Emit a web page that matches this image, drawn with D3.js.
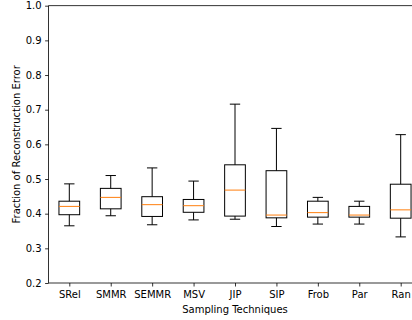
<!DOCTYPE html>
<html>
<head>
<meta charset="utf-8">
<script src="https://cdn.jsdelivr.net/npm/d3@7"></script>
<style>
  html, body { margin: 0; padding: 0; background: #fff; }
  svg { display: block; font-family: "DejaVu Sans", sans-serif; }
</style>
</head>
<body>
<svg id="chart" width="412" height="320"></svg>
<script>
// Sampling techniques compared
const categories = ["SRel", "SMMR", "SEMMR", "MSV", "JIP", "SIP", "Frob", "Par", "Ran"];
// Box statistics per technique
const whiskerLow  = [0.365, 0.394, 0.368, 0.382, 0.384, 0.363, 0.370, 0.370, 0.333];
const quartile1   = [0.397, 0.414, 0.392, 0.404, 0.393, 0.388, 0.390, 0.390, 0.387];
const medians     = [0.421, 0.447, 0.426, 0.423, 0.468, 0.396, 0.403, 0.396, 0.411];
const quartile3   = [0.436, 0.473, 0.449, 0.441, 0.541, 0.524, 0.436, 0.421, 0.485];
const whiskerHigh = [0.486, 0.510, 0.532, 0.494, 0.716, 0.646, 0.447, 0.436, 0.628];
const yTicks = [0.2, 0.3, 0.4, 0.5, 0.6, 0.7, 0.8, 0.9, 1.0];

const plotLeft = 48.6, plotRight = 421.4, plotTop = 5.7, plotBottom = 283;
const svg = d3.select("#chart");

const x = d3.scaleLinear().domain([0.5, categories.length + 0.5]).range([plotLeft, plotRight]);
const y = d3.scaleLinear().domain([0.2, 1.0]).range([plotBottom, plotTop]);
const step = x(2) - x(1);
const boxW = step * 0.5, capW = step * 0.25;

const rows = categories.map((c, i) => ({
  name: c, pos: i + 1,
  lo: whiskerLow[i], q1: quartile1[i], med: medians[i], q3: quartile3[i], hi: whiskerHigh[i]
}));

const g = svg.append("g");
const box = g.selectAll("g.box").data(rows).join("g").attr("class", "box");

// whiskers
box.append("line").attr("x1", d => x(d.pos)).attr("x2", d => x(d.pos))
  .attr("y1", d => y(d.q1)).attr("y2", d => y(d.lo)).attr("stroke", "#000").attr("stroke-width", 1);
box.append("line").attr("x1", d => x(d.pos)).attr("x2", d => x(d.pos))
  .attr("y1", d => y(d.q3)).attr("y2", d => y(d.hi)).attr("stroke", "#000").attr("stroke-width", 1);
// caps
box.append("line").attr("x1", d => x(d.pos) - capW / 2).attr("x2", d => x(d.pos) + capW / 2)
  .attr("y1", d => y(d.lo)).attr("y2", d => y(d.lo)).attr("stroke", "#000").attr("stroke-width", 1);
box.append("line").attr("x1", d => x(d.pos) - capW / 2).attr("x2", d => x(d.pos) + capW / 2)
  .attr("y1", d => y(d.hi)).attr("y2", d => y(d.hi)).attr("stroke", "#000").attr("stroke-width", 1);
// boxes
box.append("rect").attr("x", d => x(d.pos) - boxW / 2).attr("width", boxW)
  .attr("y", d => y(d.q3)).attr("height", d => y(d.q1) - y(d.q3))
  .attr("fill", "none").attr("stroke", "#000").attr("stroke-width", 1);
// medians
box.append("line").attr("x1", d => x(d.pos) - boxW / 2).attr("x2", d => x(d.pos) + boxW / 2)
  .attr("y1", d => y(d.med)).attr("y2", d => y(d.med)).attr("stroke", "#ff7f0e").attr("stroke-width", 1);

// axes
const yAxis = d3.axisLeft(y).tickValues(yTicks).tickFormat(d3.format(".1f")).tickSize(3.5).tickPadding(3.5);
const xAxis = d3.axisBottom(x).tickValues(rows.map(d => d.pos)).tickFormat((d, i) => categories[i]).tickSize(3.5).tickPadding(4.5);

const ya = svg.append("g").attr("transform", `translate(${plotLeft},0)`).call(yAxis);
const xa = svg.append("g").attr("transform", `translate(0,${plotBottom})`).call(xAxis);
[ya, xa].forEach(a => {
  a.select(".domain").remove();
  a.selectAll("line").attr("stroke", "#000").attr("stroke-width", 0.8);
  a.selectAll("text").attr("fill", "#000").style("font-size", "10px").style("font-family", "DejaVu Sans");
});

// frame
svg.append("rect").attr("x", plotLeft).attr("y", plotTop).attr("width", plotRight - plotLeft).attr("height", plotBottom - plotTop)
  .attr("fill", "none").attr("stroke", "#000").attr("stroke-width", 0.8);

// axis titles
svg.append("text").attr("x", (plotLeft + plotRight) / 2).attr("y", 312.5).attr("text-anchor", "middle")
  .style("font-size", "10px").text("Sampling Techniques");
svg.append("text").attr("transform", `translate(20,${(plotTop + plotBottom) / 2}) rotate(-90)`)
  .attr("text-anchor", "middle").style("font-size", "10px").text("Fraction of Reconstruction Error");
</script>
</body>
</html>
